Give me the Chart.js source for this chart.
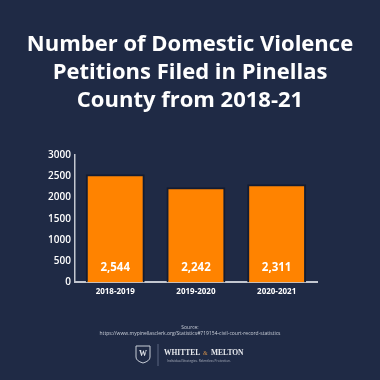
<!DOCTYPE html>
<html><head><meta charset="utf-8">
<script src="https://cdn.jsdelivr.net/npm/chart.js@4"></script>
<style>html,body{margin:0;padding:0;background:#1f2a45;}#wrap{width:380px;height:380px;}</style>
</head><body><div id="wrap"><canvas id="c" width="380" height="380"></canvas></div>
<script>
const categories = ["2018-2019", "2019-2020", "2020-2021"];
const petitions = [2544, 2242, 2311];
const valueLabels = ["2,544", "2,242", "2,311"];
const yTicks = [0, 500, 1000, 1500, 2000, 2500, 3000];
const titleLines = ["Number of Domestic Violence", "Petitions Filed in Pinellas", "County from 2018-21"];
const sourceLines = ["Source:", "https://www.mypinellasclerk.org/Statistics#719154-civil-court-record-statistics"];

const BG = '#1f2a45';
const decor = {
  id: 'decor',
  beforeDraw(chart) {
    const ctx = chart.ctx;
    ctx.save();
    ctx.fillStyle = BG;
    ctx.fillRect(0, 0, chart.width, chart.height);
    ctx.restore();
  },
  afterDraw(chart) {
    const ctx = chart.ctx;
    ctx.save();
    // title
    ctx.fillStyle = '#ffffff';
    ctx.textAlign = 'center';
    ctx.textBaseline = 'middle';
    ctx.font = 'bold 22px "Open Sans"';
    titleLines.forEach((t, i) => ctx.fillText(t, 190, 45 + i * 28));
    // value labels inside bars
    const meta = chart.getDatasetMeta(0);
    ctx.font = 'bold 11.5px "Open Sans"';
    meta.data.forEach((bar, i) => {
      ctx.fillText(valueLabels[i], bar.x, 268);
    });
    // source
    ctx.fillStyle = '#c9ced8';
    ctx.font = '5px "Open Sans"';
    ctx.fillText(sourceLines[0], 190, 328);
    ctx.fillText(sourceLines[1], 190, 333.5);
    // logo shield
    ctx.strokeStyle = '#c9ced8';
    ctx.lineWidth = 1;
    ctx.beginPath();
    ctx.moveTo(136, 346); ctx.lineTo(150, 346); ctx.lineTo(150, 357);
    ctx.quadraticCurveTo(150, 361, 143, 363); ctx.quadraticCurveTo(136, 361, 136, 357);
    ctx.closePath(); ctx.stroke();
    ctx.fillStyle = '#dfe2e8';
    ctx.font = 'bold 8px "Liberation Serif"';
    ctx.fillText('W', 143, 354);
    // divider
    ctx.strokeStyle = '#5a6480';
    ctx.beginPath(); ctx.moveTo(158, 344); ctx.lineTo(158, 366); ctx.stroke();
    // name
    ctx.textAlign = 'left';
    ctx.fillStyle = '#e8eaee';
    ctx.font = 'bold 7.5px "Liberation Serif"';
    ctx.fillText('WHITTEL', 164, 353);
    ctx.fillStyle = '#c98a4a';
    ctx.font = '6px "Liberation Serif"';
    ctx.fillText('&', 203, 353);
    ctx.fillStyle = '#e8eaee';
    ctx.font = 'bold 7.5px "Liberation Serif"';
    ctx.fillText('MELTON', 211, 353);
    ctx.fillStyle = '#aab0bd';
    ctx.font = '3.2px "Open Sans"';
    ctx.fillText('Individual Strategies. Relentless Protection.', 167, 361);
    ctx.restore();
  }
};

new Chart(document.getElementById('c'), {
  type: 'bar',
  data: {
    labels: categories,
    datasets: [{
      data: petitions,
      backgroundColor: '#ff8300',
      borderColor: '#141c30',
      borderWidth: 2,
      barPercentage: 0.73,
      categoryPercentage: 1.0
    }]
  },
  options: {
    responsive: false,
    animation: false,
    devicePixelRatio: 1,
    layout: { padding: { top: 155, right: 63, bottom: 78, left: 44 } },
    plugins: { legend: { display: false }, title: { display: false }, tooltip: { enabled: false } },
    scales: {
      x: {
        grid: { display: false, drawTicks: false },
        border: { color: '#c3c7d0', width: 2 },
        ticks: { color: '#ffffff', font: { family: '"Open Sans"', size: 8, weight: 'bold' }, padding: 5 }
      },
      y: {
        min: 0, max: 3000,
        afterBuildTicks(axis) { axis.ticks = yTicks.map(v => ({ value: v })); },
        grid: { display: false, drawTicks: false },
        border: { color: '#c3c7d0', width: 1.5 },
        ticks: { color: '#ffffff', font: { family: '"Open Sans"', size: 10, weight: '600' }, padding: 4,
                 callback: v => String(v) }
      }
    }
  },
  plugins: [decor]
});
</script></body></html>
